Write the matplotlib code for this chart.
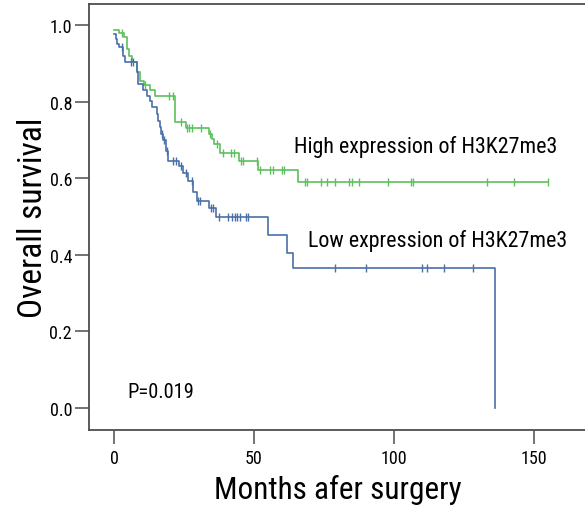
import numpy as np
import matplotlib
matplotlib.use("Agg")
import matplotlib.pyplot as plt

plt.rcParams["font.family"] = ["Roboto Condensed", "Liberation Sans", "DejaVu Sans"]

# Kaplan-Meier steps (months, survival after the step)
high_times = [0, 1.9, 3.6, 4.5, 5.4, 6.6, 8.3, 9.3, 10.8, 12.9, 14.6, 21.8, 25.6,
              34.0, 34.9, 35.8, 37.9, 44.5, 51.3, 65.8]
high_surv = [0.987, 0.979, 0.969, 0.937, 0.920, 0.904, 0.878, 0.855, 0.843, 0.830,
             0.814, 0.748, 0.730, 0.715, 0.702, 0.689, 0.666, 0.645, 0.621, 0.589]
high_cens = [2.9, 11.1, 19.75, 21.2, 23.9, 26.0, 26.9, 28.0, 31.1, 34.4, 36.9, 38.8,
             41.7, 42.9, 45.5, 46.2, 51.0, 52.1, 55.7, 56.9, 59.9, 60.7, 68.2, 69.0,
             73.8, 76.0, 78.9, 84.0, 84.9, 87.6, 98.0, 106.0, 106.9, 133.1, 143.0, 155.1]

low_times = [0, 0.7, 1.2, 1.8, 3.3, 3.9, 8.1, 8.7, 10.5, 11.7, 12.9, 13.5, 15.2, 15.8,
             16.4, 16.7, 17.6, 18.6, 19.4, 23.3, 24.5, 26.5, 28.3, 29.5, 34.0, 36.4,
             55.0, 61.7, 64.0, 136.1]
low_surv = [0.977, 0.963, 0.950, 0.942, 0.920, 0.904, 0.876, 0.846, 0.829, 0.814,
            0.802, 0.785, 0.768, 0.750, 0.734, 0.715, 0.700, 0.672, 0.646, 0.633,
            0.614, 0.594, 0.563, 0.541, 0.521, 0.498, 0.452, 0.406, 0.365, 0.0]
low_cens = [2.75, 6.0, 6.9, 17.0, 17.9, 18.8, 21.0, 22.1, 23.8, 25.7, 27.8, 30.0, 30.7,
            34.5, 35.5, 37.6, 40.8, 42.0, 43.2, 44.0, 45.0, 47.1, 48.0, 78.9, 90.0,
            109.9, 111.7, 118.0, 128.1]

GREEN = "#5dbf5d"
BLUE = "#4a70a8"
AXIS = "#4d4d4d"


def km_curve(ax, times, surv, cens, color):
    t = list(times)
    s = list(surv)
    if cens and max(cens) > t[-1]:
        t.append(max(cens))
        s.append(s[-1])
    ax.step(t, s, where="post", color=color, linewidth=1.2, zorder=3)
    idx = np.searchsorted(times, cens, side="right") - 1
    ax.plot(cens, np.asarray(surv)[idx], linestyle="none", marker="|",
            markersize=5.5, markeredgewidth=1.0, color=color, zorder=4)


fig = plt.figure(figsize=(5.85, 5.06), dpi=100)
ax = fig.add_axes([0.1516, 0.1482, 0.8484, 0.8413])

km_curve(ax, high_times, high_surv, high_cens, GREEN)
km_curve(ax, low_times, low_surv, low_cens, BLUE)

ax.set_xlim(-9.04, 168.2)
ax.set_ylim(-0.0574, 1.054)
ax.set_xticks([0, 50, 100, 150])
ax.set_yticks([0.0, 0.2, 0.4, 0.6, 0.8, 1.0])
ax.set_yticklabels(["0.0", "0.2", "0.4", "0.6", "0.8", "1.0"])
ax.tick_params(direction="out", length=10, width=1.1, color=AXIS, labelsize=13)
ax.tick_params(axis="x", pad=3.6)
ax.tick_params(axis="y", pad=2.0)
ax.spines["right"].set_visible(False)
for side in ("left", "bottom", "top"):
    ax.spines[side].set_color(AXIS)
    ax.spines[side].set_linewidth(1.3)

ax.set_xlabel("Months afer surgery", fontsize=22.5)
ax.xaxis.set_label_coords(0.502, -0.104)
ax.set_ylabel("Overall survival", fontsize=24)
ax.yaxis.set_label_coords(-0.079, 0.5)

ax.text(64.3, 0.668, "High expression of H3K27me3", fontsize=15.8, va="baseline")
ax.text(69.4, 0.423, "Low expression of H3K27me3", fontsize=15.8, va="baseline")
ax.text(4.75, 0.030, "P=0.019", fontsize=14.8, va="baseline")

fig.savefig("out.png", dpi=100)
